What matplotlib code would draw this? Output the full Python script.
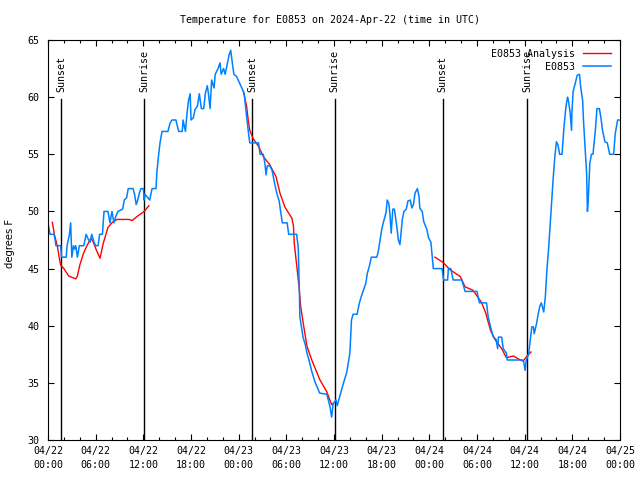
import matplotlib
matplotlib.use("Agg")
import matplotlib.pyplot as plt
from matplotlib.ticker import MultipleLocator

# ---------- data (hours since 04/22 00:00 UTC, degrees F) ----------
obs_hours = [
    0.0, 0.25, 0.75, 0.9, 1.0, 1.6, 1.7, 2.3, 2.4, 2.7, 2.85, 3.0, 3.2, 3.35, 3.5, 3.7, 3.95,
    4.5, 4.8, 5.05, 5.3, 5.5, 5.8, 6.0, 6.3, 6.5, 6.85, 7.05, 7.55, 7.8, 8.05, 8.3, 8.5, 8.8,
    9.4, 9.6, 9.9, 10.1, 10.7, 10.9, 11.1, 11.3, 11.5, 11.7, 12.0, 12.1, 12.2, 12.8, 13.1, 13.6,
    13.7, 13.9, 14.1, 14.35, 15.1, 15.35, 15.6, 16.1, 16.45, 16.9, 17.0, 17.3, 17.5, 17.7, 17.9,
    18.0, 18.3, 18.5, 18.8, 19.05, 19.3, 19.6, 19.8, 20.05, 20.2, 20.4, 20.6, 20.9, 21.05, 21.4,
    21.65, 21.8, 22.1, 22.3, 22.6, 22.8, 23.0, 23.2, 23.4, 23.75, 24.0, 24.4, 24.7, 25.0, 25.3,
    25.4, 26.05, 26.5, 26.7, 27.1, 27.3, 27.45, 27.6, 27.9, 28.2, 28.4, 28.6, 28.8, 29.1, 29.3,
    29.5, 30.1, 30.3, 31.3, 31.5, 31.6, 31.65, 31.7, 31.9, 32.1, 32.4, 32.6, 32.85, 33.2, 33.6,
    34.2, 35.1, 35.5, 35.7, 35.9, 36.25, 36.4, 36.8, 37.2, 37.6, 38.0, 38.2, 38.4, 38.9, 39.2,
    39.5, 40.0, 40.2, 40.45, 40.7, 41.4, 41.6, 41.8, 42.0, 42.2, 42.55, 42.7, 42.9, 43.05, 43.2,
    43.4, 43.6, 43.9, 44.1, 44.3, 44.6, 44.8, 45.1, 45.3, 45.6, 45.8, 46.0, 46.2, 46.5, 46.7,
    46.8, 47.1, 47.3, 47.7, 47.9, 48.2, 48.3, 48.5, 49.6, 49.8, 50.3, 50.4, 50.7, 51.0, 52.1,
    52.5, 54.0, 54.3, 55.2, 55.4, 55.7, 56.05, 56.4, 56.6, 56.7, 57.1, 57.3, 57.7, 57.8, 59.75,
    59.9, 60.05, 60.2, 60.5, 60.7, 60.9, 61.1, 61.2, 61.4, 61.5, 61.7, 61.9, 62.1, 62.4, 62.6,
    62.8, 63.0, 63.2, 63.4, 63.6, 63.8, 64.0, 64.2, 64.4, 64.7, 64.8, 64.95, 65.2, 65.4, 65.5,
    65.7, 65.9, 65.95, 66.1, 66.4, 66.6, 66.9, 67.05, 67.3, 67.4, 67.6, 67.8, 67.9, 68.0, 68.2,
    68.4, 68.6, 68.9, 69.1, 69.4, 69.6, 69.8, 70.1, 70.4, 70.7, 71.2, 71.4, 71.7, 71.9,
]
obs_temps = [
    49, 48, 48, 47.5, 47, 47, 46, 46, 47, 48, 49, 46, 47, 46.7, 47, 46, 47,
    47, 48, 47.6, 47.3, 48, 47.3, 47, 47, 48, 48, 50, 50, 49, 50, 49, 49.5, 50,
    50.2, 51, 51.2, 52, 52, 51.5, 50.6, 51, 51.6, 52, 52, 51, 51.5, 51, 52, 52,
    53.4, 54.8, 56, 57, 57, 57.7, 58, 58, 57, 57, 58, 57, 58.6, 59.75, 60.3,
    58, 58.2, 58.9, 59.2, 60.3, 59, 59, 60.3, 61, 60.3, 59, 61.5, 60.8, 62, 62.5,
    63, 62, 62.5, 62, 63, 63.7, 64.1, 63, 62, 61.8, 61.4, 60.8, 60.3, 58.3, 56.5,
    56, 56, 56, 55, 55, 54.2, 53.2, 54, 54, 53.6, 52.9, 52.2, 51.6, 50.9, 49.9,
    49, 49, 48, 48, 46.8, 44.3, 42.8, 40.8, 39.9, 39, 38.3, 37.6, 37, 36, 35.1,
    34.1, 34, 32.9, 32, 33.2, 33.5, 33, 34, 35, 35.9, 37.6, 40.5, 41, 41, 42,
    42.7, 43.7, 44.6, 45.2, 46, 46, 46.6, 47.5, 48.4, 49, 49.9, 51, 50.7, 49.7, 48.1,
    50.2, 50.2, 48.7, 47.5, 47.1, 49.3, 50, 50.2, 50.9, 51, 50.3, 50.6, 51.6, 52, 51.3,
    50.3, 50, 49.1, 48.4, 47.7, 47.3, 46.5, 45, 45, 44, 44, 45, 45, 44, 44,
    43, 43, 42, 42, 40.8, 39.9, 39, 38.8, 38, 39, 39, 38, 37.6, 37, 37,
    36.8, 36.1, 37, 37.5, 38.75, 39.9, 39.9, 39.3, 39.9, 40.2, 41, 41.7, 42, 41.2, 42.5,
    44.9, 46.6, 48.7, 50.7, 53, 54.8, 56.1, 55.8, 55, 55, 56, 57.4, 59.2, 60, 59.7,
    58.8, 57.1, 58.7, 60.5, 61.3, 61.9, 62, 60.9, 59.7, 58, 55.7, 53.3, 50, 50.9, 54.2,
    55, 55, 57.1, 59, 59, 58.2, 57.1, 56.1, 56, 55, 55, 56.8, 58, 58,
]

# analysis curve, three night-time pieces
ana1_hours = [0.55, 0.8, 1.2, 1.4, 1.6, 2.0, 2.6, 3.5, 3.7, 4.0, 4.45, 4.9, 5.4, 5.65, 6.1,
              6.55, 6.95, 7.55, 8.1, 8.7, 10.2, 10.6, 11.2, 12.1, 12.7]
ana1_temps = [49.05, 48, 46.9, 46.0, 45.3, 45, 44.35, 44.1, 44.35, 45.3, 46.3, 47, 47.65, 47.4, 46.6,
              45.9, 47.2, 48.6, 49.05, 49.3, 49.3, 49.2, 49.55, 50, 50.5]
ana2_hours = [24.6, 25.0, 25.2, 25.4, 25.8, 26.5, 27.1, 27.9, 28.7, 29.2, 29.8, 30.7, 30.9, 31.0,
              31.3, 31.6, 31.8, 32.2, 32.6, 33.2, 34.2, 35.1, 35.7, 35.9]
ana2_temps = [60.5, 59.2, 58, 57.1, 56.4, 55.7, 54.8, 54.1, 53.05, 51.6, 50.4, 49.4, 48.7, 47.2,
              45.3, 43.4, 41.7, 39.9, 38.2, 37, 35.3, 34.2, 33.1, 33.2]
ana3_hours = [48.7, 49.8, 50.6, 51.9, 52.5, 53.5, 53.8, 54.6, 55.1, 55.7, 56.3, 57.1, 57.7, 58.6,
              59.2, 59.8, 60.3, 60.8]
ana3_temps = [46.0, 45.5, 44.9, 44.3, 43.4, 43.1, 42.8, 42.0, 41.1, 39.6, 38.75, 38.0, 37.2, 37.35,
              37.1, 36.9, 37.35, 37.7]

sunset_hours = [1.64, 25.7, 49.7]
sunrise_hours = [12.1, 36.1, 60.3]

xtick_hours = list(range(0, 73, 6))
xtick_labels = ["04/22\n00:00", "04/22\n06:00", "04/22\n12:00", "04/22\n18:00",
                "04/23\n00:00", "04/23\n06:00", "04/23\n12:00", "04/23\n18:00",
                "04/24\n00:00", "04/24\n06:00", "04/24\n12:00", "04/24\n18:00",
                "04/25\n00:00"]

# ---------- plot ----------
plt.rcParams["font.family"] = "DejaVu Sans Mono"
FS = 7.2

fig = plt.figure(figsize=(6.4, 4.8), dpi=100)
ax = fig.add_axes([48 / 640, 40 / 480, 572 / 640, 400 / 480])

for h in sunset_hours:
    ax.plot([h, h], [30, 59.8], color="black", lw=1.0)
    ax.text(h, 60.45, "Sunset", rotation=90, ha="center", va="bottom", fontsize=FS)
for h in sunrise_hours:
    ax.plot([h, h], [30, 59.8], color="black", lw=1.0)
    ax.text(h, 60.45, "Sunrise", rotation=90, ha="center", va="bottom", fontsize=FS)

ax.plot(ana1_hours, ana1_temps, color="#ff0000", lw=1.0, label="E0853 Analysis")
ax.plot(ana2_hours, ana2_temps, color="#ff0000", lw=1.0)
ax.plot(ana3_hours, ana3_temps, color="#ff0000", lw=1.0)
ax.plot(obs_hours, obs_temps, color="#0080ff", lw=1.1, label="E0853")

ax.set_xlim(0, 72)
ax.set_ylim(30, 65)
ax.set_xticks(xtick_hours)
ax.set_xticklabels(xtick_labels, fontsize=FS, linespacing=1.5)
ax.xaxis.set_minor_locator(MultipleLocator(2))
ax.set_yticks(range(30, 66, 5))
ax.tick_params(axis="y", labelsize=FS, pad=6)
ax.tick_params(axis="x", pad=4)
ax.tick_params(which="both", direction="in", top=True, right=True, width=0.8)
ax.tick_params(which="major", length=4.5)
ax.tick_params(which="minor", length=2.5)
for s in ax.spines.values():
    s.set_linewidth(0.8)

leg = ax.legend(loc="upper right", frameon=False, markerfirst=False, fontsize=FS,
                handlelength=2.8, handletextpad=0.8, labelspacing=0.3,
                borderaxespad=0.7, borderpad=0.2)

fig.text(330 / 640, 1 - 20 / 480, "Temperature for E0853 on 2024-Apr-22 (time in UTC)",
         ha="center", va="center", fontsize=FS)
fig.text(10 / 640, 1 - 243 / 480, "degrees F", rotation=90, ha="center", va="center",
         fontsize=FS, family="DejaVu Sans")

fig.savefig("out.png", dpi=100)
